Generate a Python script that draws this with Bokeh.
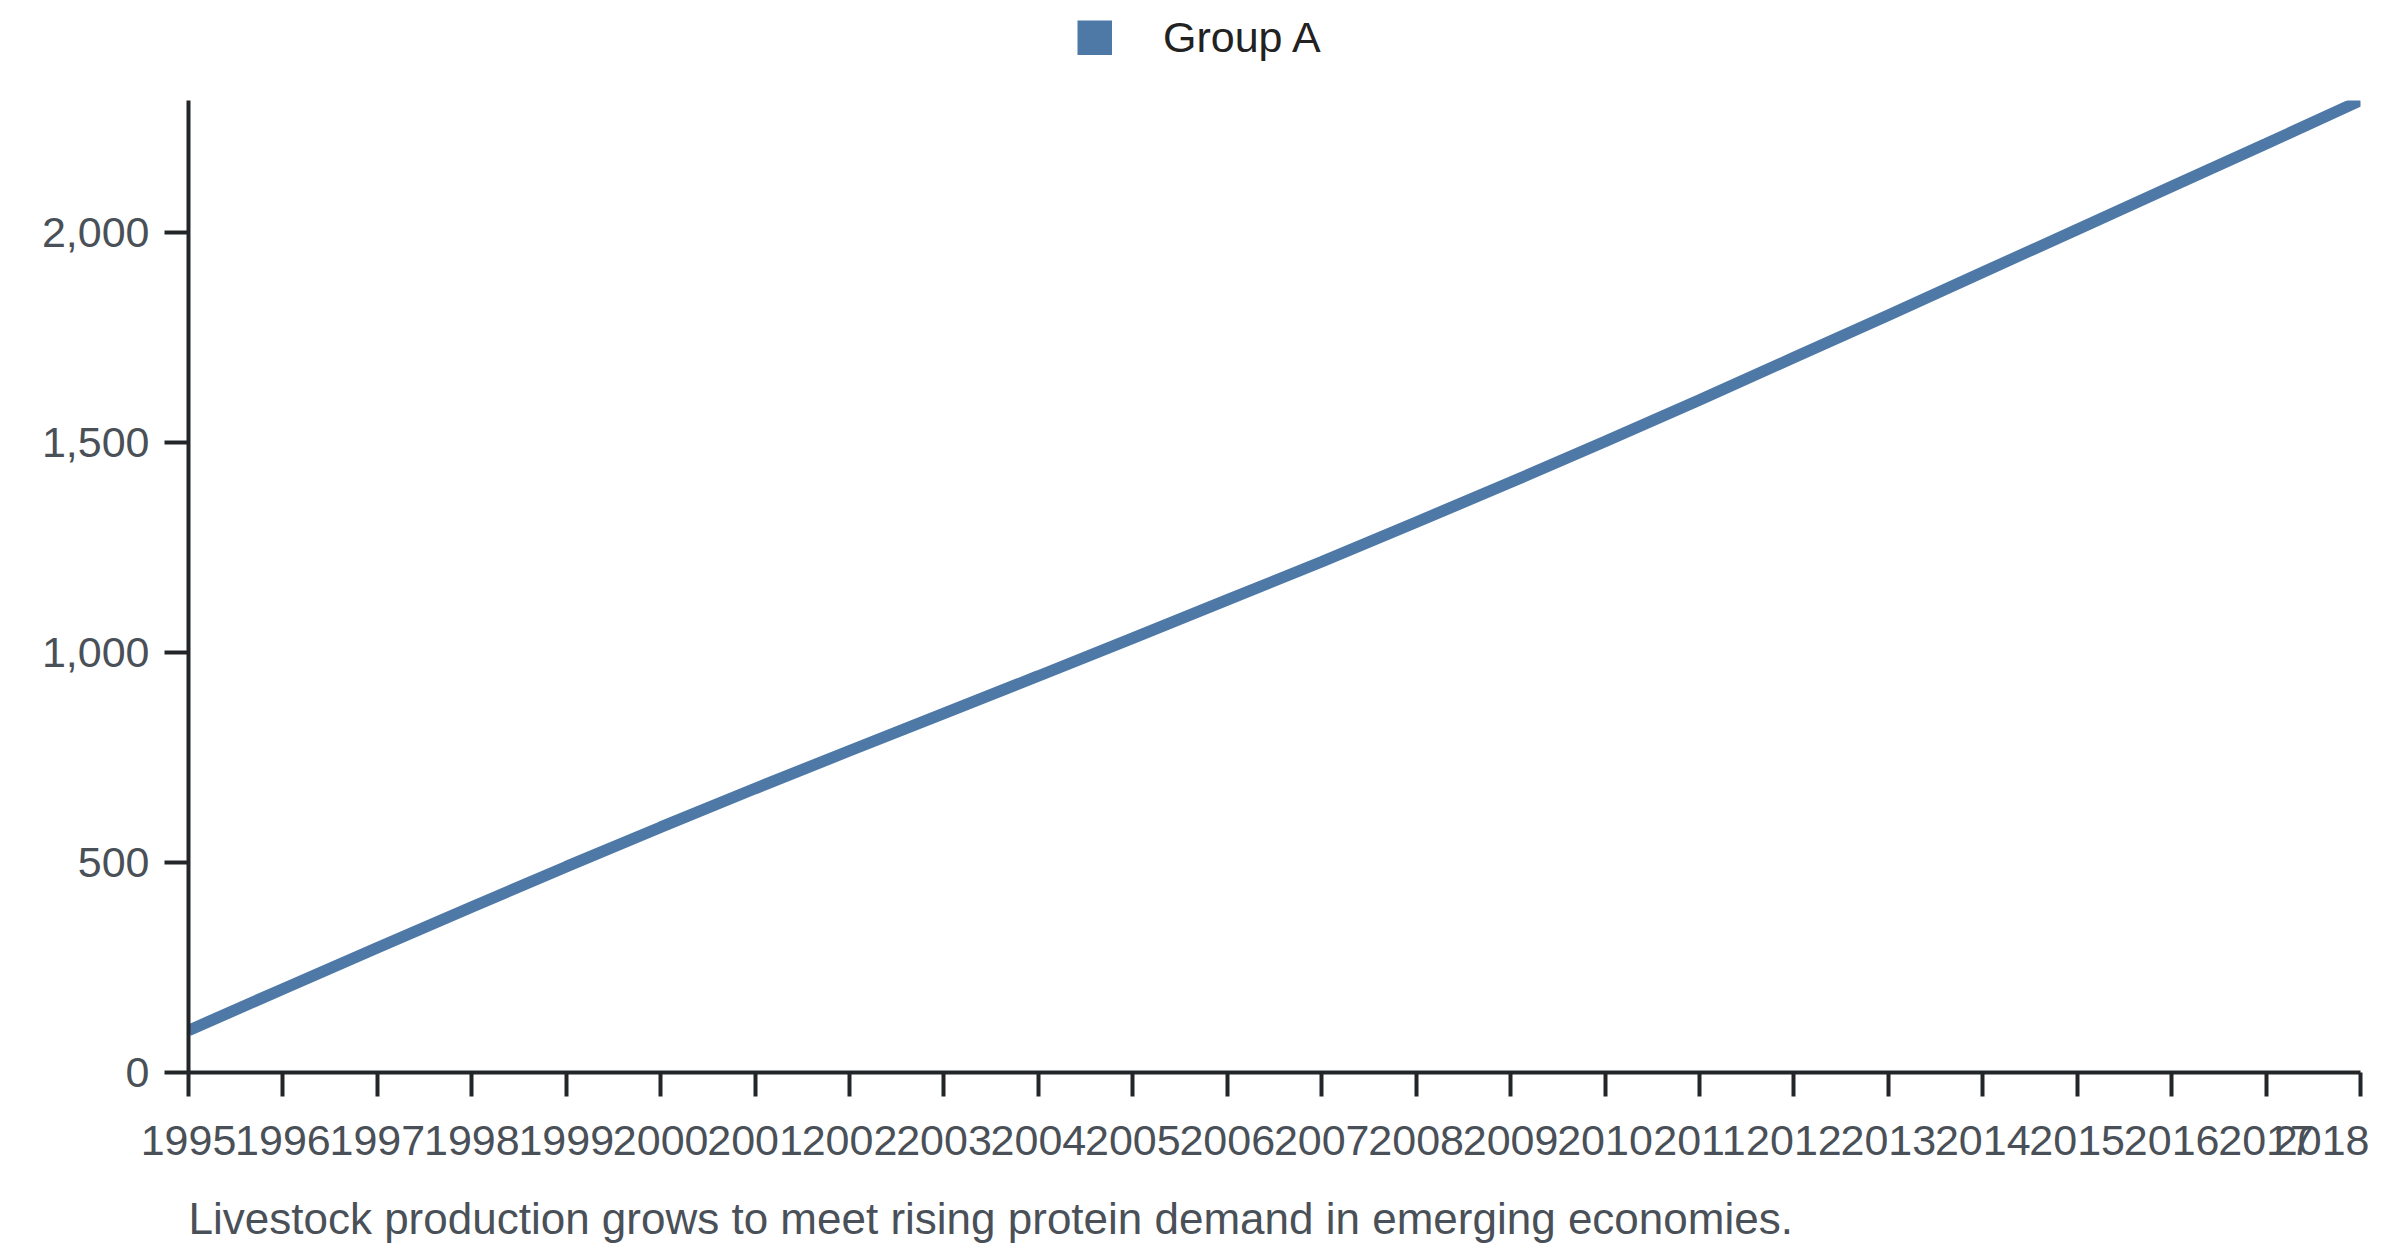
from bokeh.plotting import figure
from bokeh.layouts import column
from bokeh.models import (Range1d, Legend, LegendItem, Label, NumeralTickFormatter,
                          FixedTicker, ColumnDataSource)
from bokeh.embed import file_html
from bokeh.resources import INLINE

# ---- data ----
years = [1995, 1996, 1997, 1998, 1999, 2000, 2001, 2002, 2003, 2004, 2005, 2006,
         2007, 2008, 2009, 2010, 2011, 2012, 2013, 2014, 2015, 2016, 2017, 2018]
group_a = [100, 199, 297, 394, 490, 584, 676, 766, 855, 944, 1034, 1125,
           1216, 1310, 1405, 1502, 1601, 1702, 1803, 1905, 2007, 2109, 2211, 2314]
series_name = "Group A"
y_ticks = [0, 500, 1000, 1500, 2000]
caption = "Livestock production grows to meet rising protein demand in emerging economies."

LINE_COLOR = "#4e79a7"
AXIS_COLOR = "#232629"
TICK_TEXT = "#4a5058"
FONT = "Liberation Sans"
FS = "43px"
W = 2392

src = ColumnDataSource(dict(x=years, y=group_a))

# ---- legend strip on top (its ranges keep the series itself out of view;
#      the series renderer only provides the legend swatch) ----
lf = figure(width=W, height=100, output_backend="svg", toolbar_location=None,
            x_range=Range1d(0, 1), y_range=Range1d(-2, -1), min_border=0)
lf.axis.visible = False
lf.grid.visible = False
lf.outline_line_color = None
swatch = lf.line("x", "y", source=src, line_width=35, line_color=LINE_COLOR)
legend = Legend(items=[LegendItem(label=series_name, renderers=[swatch])],
                location=(889, 38), orientation="horizontal",
                padding=0, margin=0, spacing=0,
                border_line_alpha=0, background_fill_alpha=0,
                glyph_width=35, glyph_height=35, label_height=35,
                label_standoff=51, label_text_font=FONT,
                label_text_font_size=FS, label_text_color="#222222")
lf.add_layout(legend, "center")

# ---- main chart ----
p = figure(width=W, height=1152, output_backend="svg", toolbar_location=None,
           x_range=Range1d(years[0], years[-1]), y_range=Range1d(0, max(group_a)),
           min_border_left=188, min_border_right=32, min_border_top=0,
           min_border_bottom=180)
p.outline_line_color = None
p.xgrid.visible = False
p.ygrid.visible = False
p.background_fill_color = "white"
p.border_fill_color = "white"

ln = p.line("x", "y", source=src, line_width=11.5, line_color=LINE_COLOR)

for ax in (p.xaxis[0], p.yaxis[0]):
    ax.axis_line_width = 4
    ax.axis_line_color = AXIS_COLOR
    ax.major_tick_line_width = 4
    ax.major_tick_line_color = AXIS_COLOR
    ax.major_tick_out = 24
    ax.major_tick_in = 0
    ax.minor_tick_out = 0
    ax.minor_tick_in = 0
    ax.major_label_text_font = FONT
    ax.major_label_text_font_size = FS
    ax.major_label_text_color = TICK_TEXT

p.xaxis.ticker = FixedTicker(ticks=years)
p.xaxis.formatter = NumeralTickFormatter(format="0")
p.xaxis.major_label_standoff = 29
p.xaxis.major_label_overrides = {years[-1]: ""}

p.yaxis.ticker = FixedTicker(ticks=y_ticks)
p.yaxis.formatter = NumeralTickFormatter(format="0,0")
p.yaxis.major_label_standoff = 15

# last year label, right-aligned at the axis end (as in the reference)
p.add_layout(Label(x=years[-1], y=0, x_units="data", y_units="data",
                   text=str(years[-1]), text_align="right",
                   text_baseline="alphabetic", x_offset=9, y_offset=-68,
                   text_font=FONT, text_font_size=FS, text_color=TICK_TEXT),
             "below")

# caption under the axis
p.add_layout(Label(x=years[0], y=0, x_units="data", y_units="data",
                   text=caption, text_align="left",
                   text_baseline="alphabetic", x_offset=0, y_offset=-146,
                   text_font=FONT, text_font_size="44px", text_color=TICK_TEXT),
             "below")

layout = column(lf, p, spacing=0)
open("out.html", "w").write(file_html(layout, INLINE))
